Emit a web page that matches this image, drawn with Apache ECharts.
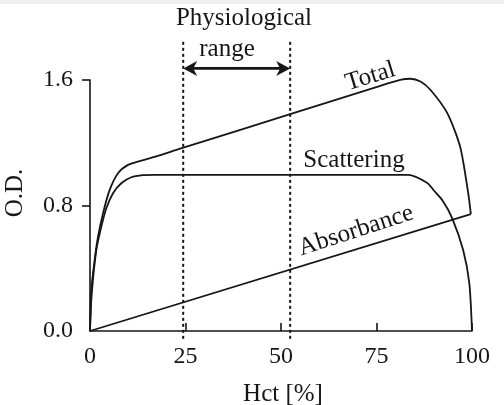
<!DOCTYPE html>
<html><head><meta charset="utf-8">
<script src="https://cdn.jsdelivr.net/npm/echarts@6/dist/echarts.min.js"></script>
<style>html,body{margin:0;padding:0;background:#fff}#c{width:504px;height:405px}</style>
</head><body><div id="c"></div>
<script>
// ---- data ----
const xTickValues = [0, 25, 50, 75, 100];
const yTickValues = [0, 0.8, 1.6];
const totalCurve = [
  [0, 0], [0.34, 0.259], [1.2, 0.451], [2.09, 0.6], [3.4, 0.75], [5.13, 0.898],
  [7.33, 1.006], [9.95, 1.059], [12.98, 1.083], [16.91, 1.11], [23.6, 1.162],
  [52.2, 1.381], [76.0, 1.563], [81.2, 1.601], [83.9, 1.608], [86.5, 1.59],
  [89.1, 1.538], [93.5, 1.39], [96.9, 1.174], [99.0, 0.88], [99.7, 0.745]
];
const scatteringCurve = [
  [0, 0], [0.4, 0.22], [1.65, 0.515], [2.96, 0.664], [4.27, 0.782], [6.02, 0.878],
  [8.19, 0.942], [10.81, 0.98], [13.87, 0.993], [16.91, 0.995], [83.3, 0.995],
  [88.3, 0.944], [89.9, 0.899], [92.2, 0.835], [94.8, 0.72], [97.7, 0.515],
  [99.3, 0.304], [100, 0]
];
const absorbanceCurve = [[0, 0], [99.7, 0.745]];
const rangeBounds = [24.4, 52.4];
const curveNames = ['Total', 'Scattering', 'Absorbance'];
const xAxisName = 'Hct [%]';
const yAxisName = 'O.D.';
const rangeTitle = ['Physiological', 'range'];

// ---- annotation placement (data coordinates) ----
const arrowY = 1.674, dashTop = 1.86, dashBottom = -0.05;
const curveLabelPos = [
  {x: 73.4, y: 1.622, rot: 17},
  {x: 69.1, y: 1.085, rot: 0},
  {x: 69.66, y: 0.639, rot: 18}
];

const INK = '#161616';
const FONT = '"Liberation Serif", "DejaVu Serif", serif';
const chart = echarts.init(document.getElementById('c'), null, {renderer: 'canvas'});

const lineStyle = {color: INK, width: 1.8};
chart.setOption({
  animation: false,
  backgroundColor: '#fff',
  grid: {left: 90, right: 32, top: 80, bottom: 74},
  xAxis: {
    type: 'value', min: 0, max: 100, interval: 25,
    axisLine: {show: true, lineStyle: {color: INK, width: 1.6}},
    axisTick: {show: true, inside: true, length: 8, lineStyle: {color: INK, width: 1.6},
      customValues: xTickValues.slice(1)},
    axisLabel: {color: INK, fontFamily: FONT, fontSize: 24, margin: 14, customValues: xTickValues},
    splitLine: {show: false}
  },
  yAxis: {
    type: 'value', min: 0, max: 1.6, interval: 0.8,
    axisLine: {show: true, lineStyle: {color: INK, width: 1.6}},
    axisTick: {show: true, inside: false, length: 8, lineStyle: {color: INK, width: 1.6},
      customValues: yTickValues.slice(1)},
    axisLabel: {color: INK, fontFamily: FONT, fontSize: 24, margin: 17,
      customValues: yTickValues, formatter: v => Number(v).toFixed(1)},
    splitLine: {show: false}
  },
  series: [
    {name: curveNames[0], type: 'line', data: totalCurve, showSymbol: false, smooth: 0.25, lineStyle, clip: false},
    {name: curveNames[1], type: 'line', data: scatteringCurve, showSymbol: false, smooth: 0.25, lineStyle, clip: false},
    {name: curveNames[2], type: 'line', data: absorbanceCurve, showSymbol: false, lineStyle, clip: false}
  ]
});

function px(x, y) { return chart.convertToPixel({gridIndex: 0}, [x, y]); }
const g = [];
g.push({type: 'rect', shape: {x: 0, y: 0, width: 504, height: 4}, style: {fill: '#eeeeee'}, silent: true});
rangeBounds.forEach(b => {
  const p1 = px(b, dashBottom), p2 = px(b, dashTop);
  g.push({type: 'line', shape: {x1: p1[0], y1: p1[1], x2: p2[0], y2: p2[1]},
    style: {stroke: INK, lineWidth: 2, lineDash: [3, 3]}, z: 10});
});
const a1 = px(rangeBounds[0], arrowY), a2 = px(rangeBounds[1], arrowY);
const L = 14, H = 7.5, N = 4;
g.push({type: 'line', shape: {x1: a1[0] + 8, y1: a1[1], x2: a2[0] - 8, y2: a2[1]},
  style: {stroke: INK, lineWidth: 2.6}, z: 10});
g.push({type: 'polygon', shape: {points: [[a1[0], a1[1]], [a1[0] + L, a1[1] - H], [a1[0] + L - N, a1[1]], [a1[0] + L, a1[1] + H]]},
  style: {fill: INK}, z: 10});
g.push({type: 'polygon', shape: {points: [[a2[0], a2[1]], [a2[0] - L, a2[1] - H], [a2[0] - L + N, a2[1]], [a2[0] - L, a2[1] + H]]},
  style: {fill: INK}, z: 10});
g.push({type: 'text', x: 244, y: 18, style: {text: rangeTitle[0], font: '25px ' + FONT, fill: INK, align: 'center', verticalAlign: 'middle'}, z: 10});
g.push({type: 'text', x: 227, y: 49, style: {text: rangeTitle[1], font: '25px ' + FONT, fill: INK, align: 'center', verticalAlign: 'middle'}, z: 10});
curveNames.forEach((n, i) => {
  const c = curveLabelPos[i];
  const p = px(c.x, c.y);
  g.push({type: 'text', x: p[0], y: p[1], rotation: c.rot * Math.PI / 180,
    style: {text: n, font: '25px ' + FONT, fill: INK, align: 'center', verticalAlign: 'middle'}, z: 10});
});
const xa = px(50, 0);
g.push({type: 'text', x: 283, y: xa[1] + 63, style: {text: xAxisName, font: '25px ' + FONT, fill: INK, align: 'center', verticalAlign: 'middle'}, z: 10});
const ya = px(0, 0.88);
g.push({type: 'text', x: 15, y: ya[1], rotation: Math.PI / 2,
  style: {text: yAxisName, font: '25px ' + FONT, fill: INK, align: 'center', verticalAlign: 'middle'}, z: 10});
chart.setOption({graphic: g});
</script>
</body></html>
